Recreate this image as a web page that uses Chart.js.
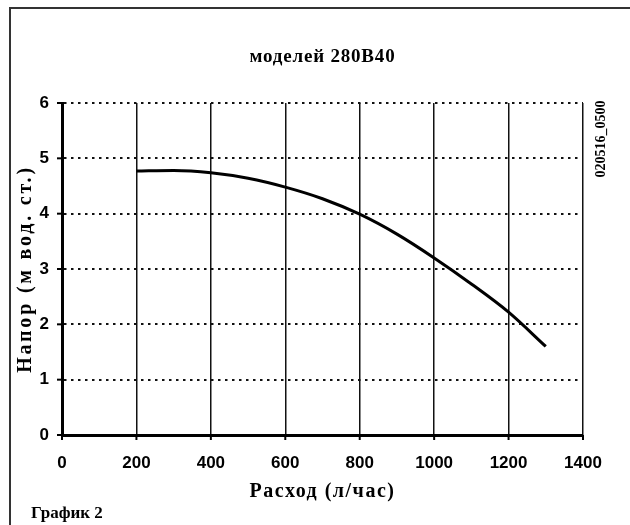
<!DOCTYPE html>
<html>
<head>
<meta charset="utf-8">
<script src="https://cdn.jsdelivr.net/npm/chart.js@4.4.1/dist/chart.umd.min.js"></script>
<style>
  html,body{margin:0;padding:0;background:#fff;overflow:hidden;}
  #wrap{position:relative;width:630px;height:525px;overflow:hidden;}
  #frame{position:absolute;left:9px;top:7px;width:621px;height:518px;border-left:2px solid #333;border-top:2px solid #333;box-sizing:border-box;}
  canvas{position:absolute;left:0;top:0;}
</style>
</head>
<body>
<div id="wrap">
  <div id="frame"></div>
  <canvas id="c" width="630" height="525"></canvas>
</div>
<script>
// ---- data ----
const flowValues = [200, 300, 400, 500, 600, 700, 800, 900, 1000, 1100, 1200, 1300];
const headValues = [4.77, 4.78, 4.74, 4.64, 4.48, 4.27, 3.99, 3.63, 3.20, 2.73, 2.22, 1.60];
const xTicks = [0, 200, 400, 600, 800, 1000, 1200, 1400];
const yTicks = [0, 1, 2, 3, 4, 5, 6];
const chartTitle = 'моделей 280B40';
const xTitle = 'Расход (л/час)';
const yTitle = 'Напор (м вод. ст.)';
const footText = 'График 2';
const codeText = '020516_0500';

const points = flowValues.map((x, i) => ({x: x, y: headValues[i]}));

const textPlugin = {
  id: 'texts',
  afterDraw(chart) {
    const ctx = chart.ctx;
    const a = chart.chartArea;
    const xs = chart.scales.x, ys = chart.scales.y;
    ctx.save();
    // tick marks
    ctx.strokeStyle = '#000';
    ctx.lineWidth = 2;
    xTicks.forEach(v => {
      const px = xs.getPixelForValue(v);
      ctx.beginPath(); ctx.moveTo(px, a.bottom); ctx.lineTo(px, a.bottom + 5); ctx.stroke();
    });
    yTicks.forEach(v => {
      const py = ys.getPixelForValue(v);
      ctx.beginPath(); ctx.moveTo(a.left - 5, py); ctx.lineTo(a.left, py); ctx.stroke();
    });
    ctx.fillStyle = '#000';
    ctx.textAlign = 'center';
    ctx.textBaseline = 'middle';
    // title
    ctx.font = 'bold 19px "Liberation Serif"';
    ctx.letterSpacing = '0.8px';
    ctx.fillText(chartTitle, (a.left + a.right) / 2, 57);
    // x title
    ctx.font = 'bold 20px "Liberation Serif"';
    ctx.letterSpacing = '1.5px';
    ctx.fillText(xTitle, (a.left + a.right) / 2, 492);
    // y title
    ctx.save();
    ctx.letterSpacing = '2.8px';
    ctx.translate(26, (a.top + a.bottom) / 2);
    ctx.rotate(-Math.PI / 2);
    ctx.fillText(yTitle, 0, 0);
    ctx.restore();
    // code
    ctx.save();
    ctx.font = 'bold 14px "Liberation Serif"';
    ctx.letterSpacing = '0px';
    ctx.translate(601, 139);
    ctx.rotate(-Math.PI / 2);
    ctx.fillText(codeText, 0, 0);
    ctx.restore();
    // footnote
    ctx.font = 'bold 17px "Liberation Serif"';
    ctx.letterSpacing = '0px';
    ctx.textAlign = 'left';
    ctx.fillText(footText, 31, 514);
    ctx.restore();
  }
};

new Chart(document.getElementById('c'), {
  type: 'line',
  data: {
    datasets: [{
      data: points,
      borderColor: '#000',
      borderWidth: 3,
      pointRadius: 0,
      fill: false,
      cubicInterpolationMode: 'monotone'
    }]
  },
  options: {
    responsive: false,
    animation: false,
    devicePixelRatio: 1,
    layout: { padding: { left: 12, right: 47, top: 103, bottom: 50 } },
    plugins: { legend: { display: false }, tooltip: { enabled: false }, title: { display: false } },
    scales: {
      x: {
        type: 'linear',
        min: 0, max: 1400,
        afterBuildTicks: s => { s.ticks = xTicks.map(v => ({value: v})); },
        afterFit: s => { s.height = 40; },
        grid: { color: '#111', lineWidth: 1.5, drawTicks: false },
        border: { display: true, color: '#000', width: 3 },
        ticks: { color: '#000', font: { family: 'Liberation Sans', weight: 'bold', size: 17 }, padding: 18, maxRotation: 0,
                 callback: v => String(v) }
      },
      y: {
        min: 0, max: 6,
        afterBuildTicks: s => { s.ticks = yTicks.map(v => ({value: v})); },
        afterFit: s => { s.width = 50; },
        grid: { color: '#111', lineWidth: 2, drawTicks: false },
        border: { display: true, color: '#000', width: 3, dash: [2.5, 4.5] },
        ticks: { color: '#000', font: { family: 'Liberation Sans', weight: 'bold', size: 17 }, padding: 13,
                 callback: v => String(v) }
      }
    }
  },
  plugins: [textPlugin]
});
</script>
</body>
</html>
